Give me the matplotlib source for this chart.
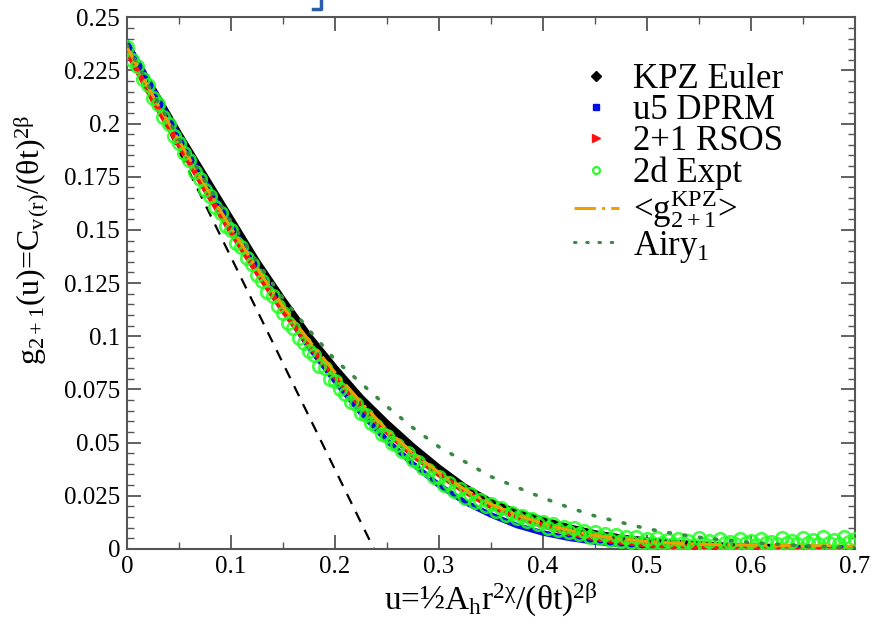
import numpy as np
import matplotlib
matplotlib.use('Agg')
from matplotlib import pyplot as plt
from matplotlib.lines import Line2D
from matplotlib.ticker import MultipleLocator, FuncFormatter

plt.rcParams['font.family'] = ['Liberation Serif', 'DejaVu Serif']
plt.rcParams['mathtext.fontset'] = 'custom'
plt.rcParams['mathtext.rm'] = 'Liberation Serif'
plt.rcParams['mathtext.it'] = 'Liberation Serif'

# common grid for the simulation curves
u = [0.0, 0.025, 0.05, 0.075, 0.1, 0.125, 0.15, 0.175, 0.2, 0.225, 0.25, 0.275,
     0.3, 0.325, 0.35, 0.375, 0.4, 0.425, 0.45, 0.475, 0.5, 0.525, 0.55, 0.575,
     0.6, 0.625, 0.65, 0.675, 0.7]

kpz_euler = [0.237, 0.216, 0.195, 0.175, 0.155, 0.135, 0.117, 0.100, 0.085, 0.071,
             0.059, 0.048, 0.038, 0.029, 0.022, 0.017, 0.0135, 0.0100, 0.0072, 0.0052,
             0.0038, 0.0028, 0.0020, 0.0014, 0.0010, 0.0007, 0.0004, 0.0002, 0.0001]

u5_dprm = [0.238, 0.216, 0.194, 0.173, 0.152, 0.132, 0.113, 0.095, 0.079, 0.064,
           0.051, 0.040, 0.030, 0.022, 0.016, 0.011, 0.0075, 0.005, 0.0032, 0.002,
           0.0012, 0.0007, 0.0004, 0.0002, 0.0001, 0.0, 0.0, 0.0, 0.0]

rsos = [0.234, 0.211, 0.190, 0.169, 0.149, 0.130, 0.112, 0.096, 0.081, 0.067,
        0.055, 0.044, 0.035, 0.027, 0.020, 0.015, 0.011, 0.0075, 0.005, 0.0033,
        0.002, 0.0012, 0.0006, 0.0002, 0.0, -0.0003, -0.0006, -0.0009, -0.001]

g_mean = [0.236, 0.213, 0.192, 0.171, 0.151, 0.132, 0.114, 0.098, 0.083, 0.069,
          0.056, 0.045, 0.036, 0.028, 0.021, 0.016, 0.012, 0.0088, 0.0064, 0.0047,
          0.0035, 0.0028, 0.0023, 0.002, 0.0018, 0.0016, 0.0015, 0.0014, 0.0013]

airy1 = [0.237, 0.214, 0.193, 0.173, 0.154, 0.135, 0.118, 0.103, 0.089, 0.078,
         0.067, 0.057, 0.048, 0.041, 0.034, 0.029, 0.024, 0.0195, 0.0155, 0.0125,
         0.0095, 0.0073, 0.0055, 0.0041, 0.003, 0.0022, 0.0015, 0.001, 0.0007]

# experiment points
expt_u = [i / 100 for i in range(71)]
expt_g = [0.236, 0.227, 0.218, 0.209, 0.200, 0.191, 0.183, 0.174, 0.166, 0.158,
          0.150, 0.142, 0.134, 0.126, 0.119, 0.111, 0.104, 0.097, 0.091, 0.085,
          0.079, 0.073, 0.068, 0.063, 0.058, 0.053, 0.049, 0.045, 0.041, 0.037,
          0.034, 0.031, 0.028, 0.026, 0.023, 0.021, 0.019, 0.017, 0.0155, 0.014,
          0.0125, 0.0115, 0.0102, 0.0098, 0.0082, 0.0078, 0.0068, 0.0066, 0.0055, 0.0058,
          0.0046, 0.0052, 0.0041, 0.0047, 0.0036, 0.0049, 0.0038, 0.0045, 0.0033, 0.0048,
          0.0036, 0.0046, 0.0034, 0.0050, 0.0038, 0.0049, 0.0040, 0.0054, 0.0042, 0.0055,
          0.0048]
expt2_u = [0.005 + i / 100 for i in range(70)]
expt2_g = [0.230, 0.221, 0.212, 0.203, 0.194, 0.186, 0.177, 0.169, 0.161, 0.152,
           0.144, 0.137, 0.129, 0.121, 0.114, 0.106, 0.099, 0.093, 0.086, 0.080,
           0.075, 0.069, 0.064, 0.059, 0.054, 0.050, 0.046, 0.042, 0.038, 0.034,
           0.030, 0.027, 0.024, 0.022, 0.020, 0.018, 0.016, 0.0145, 0.013, 0.0115,
           0.010, 0.009, 0.0078, 0.0068, 0.0058, 0.0052, 0.0044, 0.0039, 0.0033, 0.0030,
           0.0026, 0.0028, 0.0022, 0.0027, 0.0020, 0.0025, 0.0019, 0.0026, 0.0021, 0.0027,
           0.0020, 0.0026, 0.0022, 0.0028, 0.0021, 0.0029, 0.0024, 0.0030, 0.0025, 0.0031]

# small-u asymptote
tangent_u = [0.0, 0.2375]
tangent_g = [0.237, 0.0]

fig = plt.figure(figsize=(8.82, 6.39), dpi=100)
ax = fig.add_axes([0.144, 0.141, 0.825, 0.832])

green = '#22ff22'
ax.plot(tangent_u, tangent_g, color='k', lw=1.6, dashes=(5, 4), zorder=1)
ax.plot(u, kpz_euler, color='k', lw=5, zorder=2)
ax.plot(u, u5_dprm, color='#0010e0', lw=4, zorder=2)
ax.plot(u, rsos, color='#ff1010', lw=4, zorder=3)
ax.plot(expt_u, expt_g, 'o', mfc='none', mec=green, mew=1.9, ms=9, alpha=0.85, zorder=4)
ax.plot(expt2_u, expt2_g, 'o', mfc='none', mec=green, mew=1.9, ms=9, alpha=0.85, zorder=4)
ax.plot(u, g_mean, color='#f0a000', lw=2.2, ls=(0, (7, 2, 1, 2)), zorder=5)
ax.plot(u, airy1, color='#3a8a45', lw=2.6, ls=(0, (0.5, 3.8)), dash_capstyle='round', zorder=5)

ax.set_xlim(0, 0.7)
ax.set_ylim(0, 0.25)
ax.xaxis.set_major_locator(MultipleLocator(0.1))
ax.xaxis.set_minor_locator(MultipleLocator(0.05))
ax.yaxis.set_major_locator(MultipleLocator(0.025))
ax.yaxis.set_minor_locator(MultipleLocator(0.005))
fmt = FuncFormatter(lambda v, p: '%g' % round(v, 4))
ax.xaxis.set_major_formatter(fmt)
ax.yaxis.set_major_formatter(fmt)
ax.tick_params(which='both', direction='in', top=True, right=True, color='#555555')
ax.tick_params(which='major', length=10, width=1.3, labelsize=18, pad=5)
ax.tick_params(which='minor', length=5, width=1.0)
for s in ax.spines.values():
    s.set_color('#555555')
    s.set_linewidth(1.5)

ax.set_xlabel(r'u=½A$_\mathregular{h}$r$^\mathregular{2χ}$/(θt)$^\mathregular{2β}$',
              fontsize=24, labelpad=2)
ax.set_ylabel(r'g$_\mathregular{2+1}$(u)=C$_\mathregular{v}$$_\mathregular{(r)}$/(θt)$^\mathregular{2β}$',
              fontsize=23)
ax.yaxis.set_label_coords(-0.105, 0.58)

handles = [
    Line2D([], [], ls='none', marker='D', color='k', ms=5),
    Line2D([], [], ls='none', marker='s', color='#0010e0', ms=5),
    Line2D([], [], ls='none', marker='>', color='#ff1010', ms=6),
    Line2D([], [], ls='none', marker='o', mfc='none', mec=green, mew=1.5, ms=5),
    Line2D([], [], color='#f0a000', lw=2.2, ls=(0, (7, 2, 1, 2))),
    Line2D([], [], color='#3a8a45', lw=2.2, ls=(0, (0.5, 3.5)), dash_capstyle='round'),
]
labels = ['KPZ Euler', 'u5 DPRM', '2+1 RSOS', '2d Expt',
          r'<g$_\mathregular{2+1}^\mathregular{KPZ}$>', r'Airy$_\mathregular{1}$']
ax.legend(handles, labels, loc='upper right', bbox_to_anchor=(0.935, 0.96), frameon=False,
          fontsize=25, handlelength=1.3, handletextpad=0.4, labelspacing=-0.05,
          borderpad=0.2)

# cropped bracket fragment at the top edge of the source image
fig.add_artist(Line2D([0.355, 0.364, 0.364], [0.986, 0.986, 1.0], color='#2a5caa',
                      lw=2.5, transform=fig.transFigure))

fig.savefig('out.png', dpi=100)
